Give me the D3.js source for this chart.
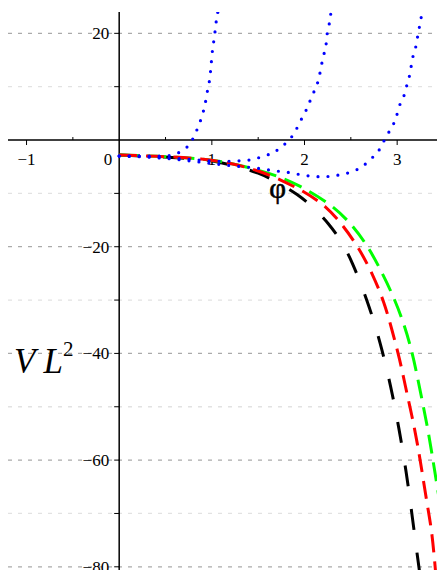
<!DOCTYPE html>
<html>
<head>
<meta charset="utf-8">
<script src="https://cdn.jsdelivr.net/npm/d3@7"></script>
<style>
  body { margin: 0; background: #fff; }
  svg { display: block; }
  text { font-family: "Liberation Serif", "DejaVu Serif", serif; }
</style>
</head>
<body>
<div id="chart"></div>
<script>
// 讀圖估計的資料點 (x, V L^2)
const blue1 = [[0,-3],[0.26,-3],[0.46,-3],[0.57,-2.8],[0.67,-2.1],[0.76,-0.75],[0.81,0.75],[0.85,2.4],[0.89,4.3],[0.92,6.2],[0.94,7.9],[0.96,10],[0.98,11.8],[0.99,13.7],[1.0,15.6],[1.01,17.4],[1.03,19.5],[1.04,21.4],[1.06,23.3],[1.07,25]];
const blue2 = [[0,-3],[0.3,-3.1],[0.6,-3.4],[0.9,-3.8],[1.1,-4.0],[1.3,-3.9],[1.45,-3.6],[1.56,-3],[1.66,-2.4],[1.75,-1.3],[1.82,-0.2],[1.89,1.3],[1.94,3],[1.99,4.7],[2.04,6.4],[2.08,8.3],[2.13,10.1],[2.16,12],[2.18,13.7],[2.2,15.6],[2.23,17.4],[2.24,19.3],[2.26,21.2],[2.28,23.1],[2.29,25]];
const blue3 = [[0,-3],[0.3,-3.2],[0.6,-3.6],[0.9,-4.2],[1.2,-4.8],[1.45,-5.2],[1.65,-5.7],[1.87,-6.2],[1.99,-6.6],[2.1,-6.8],[2.2,-6.9],[2.31,-6.7],[2.42,-6.4],[2.53,-5.8],[2.63,-4.9],[2.71,-3.6],[2.79,-2.3],[2.84,-0.75],[2.89,0.9],[2.95,2.6],[2.99,4.3],[3.02,6.2],[3.07,8.1],[3.1,10],[3.13,11.8],[3.15,13.7],[3.17,15.6],[3.2,17.4],[3.22,19.3],[3.24,21.2],[3.26,23.1],[3.27,25]];
const blackCurve = [[0,-2.8],[0.5,-3.2],[0.9,-3.6],[1.1,-4.2],[1.3,-5.1],[1.5,-6.1],[1.7,-7.8],[1.93,-10.2],[2.1,-12.7],[2.26,-15.6],[2.4,-19],[2.51,-22.6],[2.68,-30.1],[2.82,-38],[2.93,-46],[3.02,-54],[3.1,-62.3],[3.16,-70.2],[3.22,-78.2],[3.25,-82]];
const redCurve = [[0,-2.8],[0.5,-3.1],[0.9,-3.5],[1.2,-4.3],[1.5,-5.7],[1.75,-7.5],[1.99,-9.6],[2.23,-12.3],[2.42,-16.1],[2.59,-20.3],[2.74,-25.3],[2.86,-30.4],[2.94,-35.3],[3.03,-41.2],[3.09,-46.3],[3.16,-51.7],[3.22,-57],[3.27,-62.3],[3.32,-67.9],[3.37,-72.8],[3.40,-78],[3.42,-82]];
const greenCurve = [[0,-2.8],[0.5,-3.1],[0.9,-3.5],[1.2,-4.3],[1.5,-5.6],[1.75,-7.0],[1.93,-8.4],[2.25,-11.6],[2.46,-14.8],[2.66,-19.2],[2.81,-23.9],[2.95,-28.9],[3.07,-34.2],[3.16,-39.6],[3.22,-44.5],[3.28,-49.7],[3.34,-55],[3.39,-60.4],[3.43,-64.7],[3.46,-68]];

const xTicks = [-1, 1, 2, 3];
const xMinor = [-0.5, 0.5, 1.5, 2.5];
const yTicks = [20, -20, -40, -60, -80];
const yMinor = [10, -10, -30, -50, -70];

const W = 437, H = 570;
const FONT = "'Liberation Serif', 'DejaVu Serif', serif";
const x = d3.scaleLinear().domain([-1.2, 3.43]).range([8, 437]);
const y = d3.scaleLinear().domain([24, -80.6]).range([12, 570]);

const svg = d3.select("#chart").append("svg").attr("width", W).attr("height", H)
  .attr("font-family", FONT);

svg.append("defs").append("clipPath").attr("id", "clip")
  .append("rect").attr("x", 8).attr("y", 12).attr("width", W - 8).attr("height", H - 12);

// 格線
svg.selectAll(".gmin").data(yMinor).enter().append("line")
  .attr("x1", 8).attr("x2", W).attr("y1", d => y(d)).attr("y2", d => y(d))
  .attr("stroke", "#e2e2e2").attr("stroke-width", 1.3).attr("stroke-dasharray", "4,6");
svg.selectAll(".gmaj").data(yTicks).enter().append("line")
  .attr("x1", 8).attr("x2", W).attr("y1", d => y(d)).attr("y2", d => y(d))
  .attr("stroke", "#aaaaaa").attr("stroke-width", 1.3).attr("stroke-dasharray", "4,6");

// 軸線
svg.append("line").attr("x1", 8).attr("x2", W).attr("y1", y(0)).attr("y2", y(0))
  .attr("stroke", "#000").attr("stroke-width", 1.5);
svg.append("line").attr("x1", x(0)).attr("x2", x(0)).attr("y1", 12).attr("y2", H)
  .attr("stroke", "#000").attr("stroke-width", 1.5);

// 刻度
svg.selectAll(".xt").data(xTicks).enter().append("line")
  .attr("x1", d => x(d)).attr("x2", d => x(d)).attr("y1", y(0)).attr("y2", y(0) + 5)
  .attr("stroke", "#000");
svg.selectAll(".xm").data(xMinor).enter().append("line")
  .attr("x1", d => x(d)).attr("x2", d => x(d)).attr("y1", y(0)).attr("y2", y(0) - 3)
  .attr("stroke", "#000");
svg.selectAll(".yt").data(yTicks.concat(yMinor)).enter().append("line")
  .attr("x1", x(0) - 5).attr("x2", x(0)).attr("y1", d => y(d)).attr("y2", d => y(d))
  .attr("stroke", "#000");

const fmt = d => d < 0 ? "\u2212" + Math.abs(d) : String(d);
svg.selectAll(".xl").data(xTicks).enter().append("text")
  .attr("font-family", FONT)
  .attr("x", d => x(d)).attr("y", y(0) + 25).attr("text-anchor", "middle")
  .attr("font-size", 17).text(fmt);
svg.append("text").attr("font-family", FONT)
  .attr("x", x(0) - 7).attr("y", y(0) + 25).attr("text-anchor", "end")
  .attr("font-size", 17).text("0");
svg.selectAll(".yl").data(yTicks).enter().append("text")
  .attr("font-family", FONT)
  .attr("x", x(0) - 10).attr("y", d => y(d) + 6).attr("text-anchor", "end")
  .attr("font-size", 17).text(fmt);

// 曲線
const line = d3.line().x(d => x(d[0])).y(d => y(d[1])).curve(d3.curveMonotoneX);
const smooth = d3.line().x(d => x(d[0])).y(d => y(d[1])).curve(d3.curveBasis);
const g = svg.append("g").attr("clip-path", "url(#clip)");

g.append("path").datum(blackCurve).attr("d", smooth).attr("fill", "none")
  .attr("stroke", "#000").attr("stroke-width", 3).attr("stroke-dasharray", "21,23");
g.append("path").datum(greenCurve).attr("d", smooth).attr("fill", "none")
  .attr("stroke", "#00ff00").attr("stroke-width", 3).attr("stroke-dasharray", "19,9");
g.append("path").datum(redCurve).attr("d", smooth).attr("fill", "none")
  .attr("stroke", "#ff0000").attr("stroke-width", 3).attr("stroke-dasharray", "18,9");

[blue1, blue2, blue3].forEach(s => {
  g.append("path").datum(s).attr("d", line).attr("fill", "none")
    .attr("stroke", "#0000ff").attr("stroke-width", 3.2)
    .attr("stroke-linecap", "round").attr("stroke-dasharray", "0,10");
});

// 標籤
svg.append("text").attr("font-family", FONT)
  .attr("x", x(1.71)).attr("y", y(-10.8)).attr("text-anchor", "middle")
  .attr("font-size", 29).attr("stroke", "#000").attr("stroke-width", 0.6).text("φ");

const lab = svg.append("text").attr("font-family", FONT)
  .attr("x", 14).attr("y", 373).attr("font-size", 35);
lab.append("tspan").attr("font-style", "italic").text("V L");
lab.append("tspan").attr("font-size", 21).attr("dy", -17).text("2");
</script>
</body>
</html>
